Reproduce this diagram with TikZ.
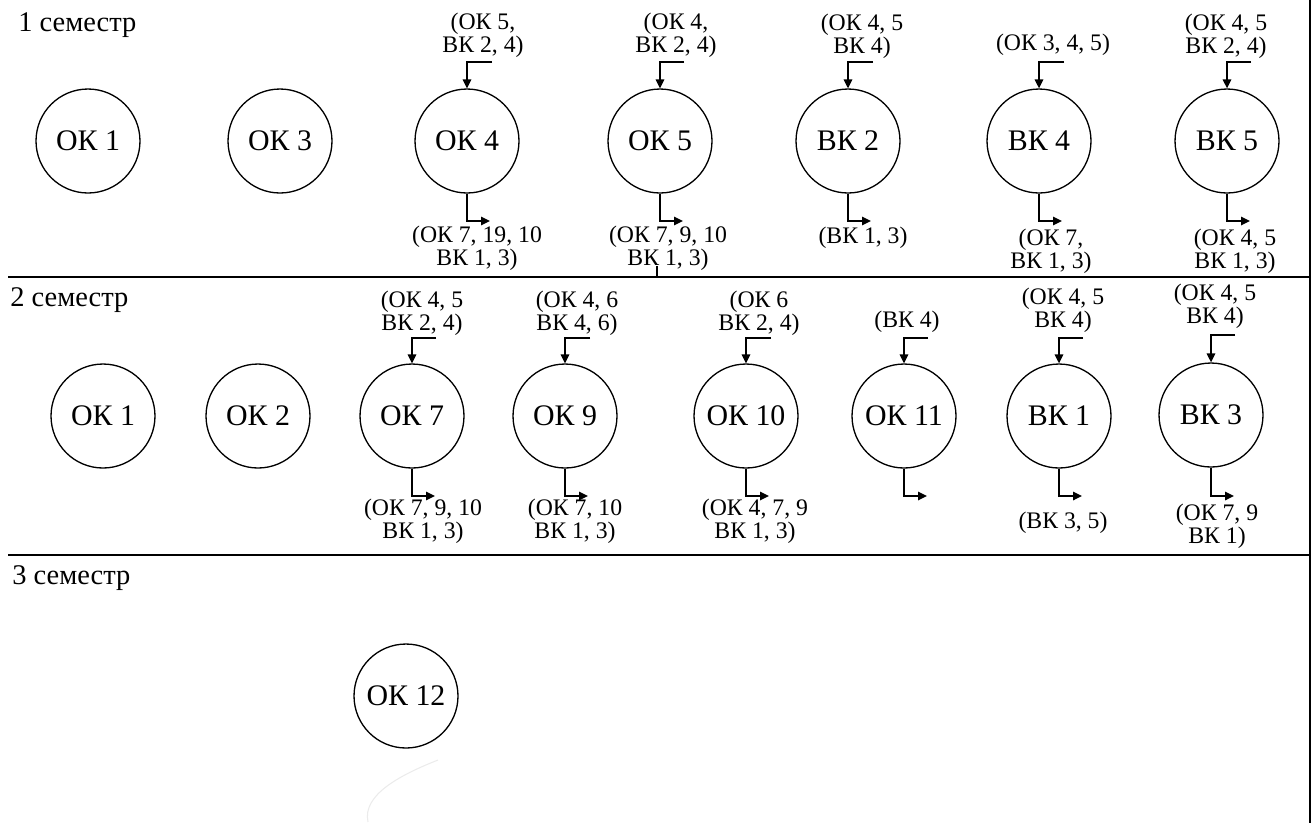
\documentclass[tikz,border=0pt]{standalone}
\usepackage{fontspec}
\setmainfont{Liberation Serif}
\usetikzlibrary{arrows.meta}
\begin{document}
\begin{tikzpicture}[
        x=0.02cm, y=-0.02cm,
        kurs/.style={circle, draw, line width=0.75pt, minimum size=2.08cm, inner sep=0pt, font=\fontsize{17}{18}\selectfont},
        lbl/.style={align=center, inner sep=0pt, font=\fontsize{13.5}{13}\selectfont},
        sem/.style={anchor=west, inner sep=0pt, font=\fontsize{16.2}{17}\selectfont},
        arrow/.style={-{Triangle[length=0.18cm, width=0.17cm]}, line width=0.9pt},
        frame/.style={line width=1pt}
    ]
        \useasboundingbox (0,0) rectangle (1314,823);

        \node[sem] (sem1) at (18,25) {1 семестр};
        \node[sem] (sem2) at (10,300) {2 семестр};
        \node[sem] (sem3) at (12,578) {3 семестр};

        \node[kurs] (s1ok1) at (88,141) {ОК 1};
        \node[kurs] (s1ok3) at (280,141) {ОК 3};
        \node[kurs] (s1ok4) at (467,141) {ОК 4};
        \node[kurs] (s1ok5) at (660,141) {ОК 5};
        \node[kurs] (s1vk2) at (848,141) {ВК 2};
        \node[kurs] (s1vk4) at (1039,141) {ВК 4};
        \node[kurs] (s1vk5) at (1227,141) {ВК 5};

        \node[lbl] (s1ok4t) at (483,35) {(ОК 5,\\ВК 2, 4)};
        \node[lbl] (s1ok5t) at (676,35) {(ОК 4,\\ВК 2, 4)};
        \node[lbl] (s1vk2t) at (862,36) {(ОК 4, 5\\ВК 4)};
        \node[lbl] (s1vk4t) at (1053,45) {(ОК 3, 4, 5)};
        \node[lbl] (s1vk5t) at (1226,36) {(ОК 4, 5\\ВК 2, 4)};

        \node[lbl] (s1ok4b) at (477,248) {(ОК 7, 19, 10\\ВК 1, 3)};
        \node[lbl] (s1ok5b) at (668,248) {(ОК 7, 9, 10\\ВК 1, 3)};
        \node[lbl] (s1vk2b) at (863,238) {(ВК 1, 3)};
        \node[lbl] (s1vk4b) at (1051,251) {(ОК 7,\\ВК 1, 3)};
        \node[lbl] (s1vk5b) at (1235,251) {(ОК 4, 5\\ВК 1, 3)};

        \node[kurs] (s2ok1) at (103,416) {ОК 1};
        \node[kurs] (s2ok2) at (258,416) {ОК 2};
        \node[kurs] (s2ok7) at (412,416) {ОК 7};
        \node[kurs] (s2ok9) at (565,416) {ОК 9};
        \node[kurs] (s2ok10) at (746,416) {ОК 10};
        \node[kurs] (s2ok11) at (904,416) {ОК 11};
        \node[kurs] (s2vk1) at (1059,416) {ВК 1};
        \node[kurs] (s2vk3) at (1211,415) {ВК 3};

        \node[lbl] (s2ok7t) at (422,313) {(ОК 4, 5\\ВК 2, 4)};
        \node[lbl] (s2ok9t) at (577,313) {(ОК 4, 6\\ВК 4, 6)};
        \node[lbl] (s2ok10t) at (759,313) {(ОК 6\\ВК 2, 4)};
        \node[lbl] (s2ok11t) at (907,322) {(ВК 4)};
        \node[lbl] (s2vk1t) at (1063,310) {(ОК 4, 5\\ВК 4)};
        \node[lbl] (s2vk3t) at (1215,306) {(ОК 4, 5\\ВК 4)};

        \node[lbl] (s2ok7b) at (423,521) {(ОК 7, 9, 10\\ВК 1, 3)};
        \node[lbl] (s2ok9b) at (575,521) {(ОК 7, 10\\ВК 1, 3)};
        \node[lbl] (s2ok10b) at (755,521) {(ОК 4, 7, 9\\ВК 1, 3)};
        \node[lbl] (s2vk1b) at (1063,523) {(ВК 3, 5)};
        \node[lbl] (s2vk3b) at (1217,526) {(ОК 7, 9\\ВК 1)};

        \node[kurs] (s3ok12) at (406,696) {ОК 12};

        \coordinate (s1ok4i) at (492,62);
        \coordinate (s1ok5i) at (684,62);
        \coordinate (s1vk2i) at (873,62);
        \coordinate (s1vk4i) at (1064,62);
        \coordinate (s1vk5i) at (1251,62);
        \coordinate (s1ok4o) at (490,221);
        \coordinate (s1ok5o) at (683,221);
        \coordinate (s1vk2o) at (871,221);
        \coordinate (s1vk4o) at (1062,221);
        \coordinate (s1vk5o) at (1250,221);

        \coordinate (s2ok7i) at (436,338);
        \coordinate (s2ok9i) at (590,338);
        \coordinate (s2ok10i) at (771,338);
        \coordinate (s2ok11i) at (928,338);
        \coordinate (s2vk1i) at (1083,338);
        \coordinate (s2vk3i) at (1235,335);
        \coordinate (s2ok7o) at (435,496);
        \coordinate (s2ok9o) at (588,496);
        \coordinate (s2ok10o) at (769,496);
        \coordinate (s2ok11o) at (927,496);
        \coordinate (s2vk1o) at (1082,496);
        \coordinate (s2vk3o) at (1234,496);

        \foreach \k in {s1ok4,s1ok5,s1vk2,s1vk4,s1vk5,s2ok7,s2ok9,s2ok10,s2ok11,s2vk1,s2vk3} {
            \draw[arrow] (\k i) -| (\k.north);
            \draw[arrow] (\k.south) |- (\k o);
        }

        \coordinate (lft1) at (8,277);
        \coordinate (rgt1) at (1310,277);
        \coordinate (lft2) at (8,555);
        \coordinate (rgt2) at (1310,555);
        \coordinate (top) at (1310,0);
        \coordinate (bot) at (1310,823);
        \coordinate (tick) at (657,266);
        \draw[frame] (lft1) -- (rgt1);
        \draw[frame] (lft2) -- (rgt2);
        \draw[frame] (top) -- (bot);
        \draw[line width=0.8pt] (tick) -- (tick |- rgt1);
        \draw[black!8, line width=0.6pt] (438,760) .. controls (400,775) and (362,795) .. (368,822);
    \end{tikzpicture}
\end{document}
